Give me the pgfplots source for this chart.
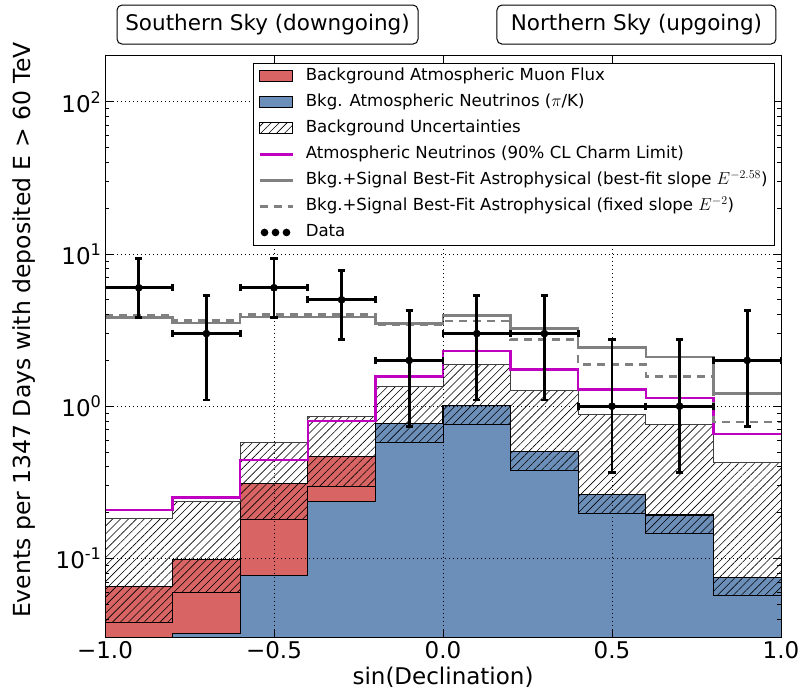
\documentclass[border=0pt]{standalone}
\usepackage{fontspec}
\setmainfont{DejaVu Sans}
\usepackage{pgfplots}
\pgfplotsset{compat=1.18}
\usepackage{pgfplotstable}
\usepgfplotslibrary{fillbetween}
\usetikzlibrary{patterns.meta}

\definecolor{muonred}{RGB}{217,100,100}
\definecolor{nublue}{RGB}{108,143,186}
\definecolor{charm}{RGB}{192,0,192}
\definecolor{fitgray}{RGB}{128,128,128}

\pgfplotstableread{
x blue tot lo hi charm fit fitd
-1.0 0.020 0.0653 0.0378 0.184 0.208 3.82 3.95
-0.8 0.032 0.098 0.060 0.236 0.252 3.52 3.65
-0.6 0.0771 0.311 0.180 0.574 0.443 3.85 4.00
-0.4 0.235 0.470 0.296 0.851 0.797 3.85 4.00
-0.2 0.770 0.770 0.581 1.339 1.57 3.49 3.45
0.0 1.015 1.015 0.762 1.876 2.31 3.95 3.63
0.2 0.507 0.507 0.380 1.273 1.74 3.23 2.74
0.4 0.264 0.264 0.198 0.883 1.287 2.43 1.88
0.6 0.193 0.193 0.146 0.758 1.128 2.11 1.57
0.8 0.0748 0.0748 0.0568 0.427 0.655 1.21 0.789
1.0 0.0748 0.0748 0.0568 0.427 0.655 1.21 0.789
}\hist

\pgfplotstableread{
x y ex ep em
-0.9 6 0.1 3.3 2.15
-0.7 3 0.1 2.32 1.9
-0.5 6 0.1 3.3 2.15
-0.3 5 0.1 2.8 2.25
-0.1 2 0.1 2.26 1.26
0.1 3 0.1 2.32 1.9
0.3 3 0.1 2.32 1.9
0.5 1 0.1 1.75 0.633
0.7 1 0.1 1.75 0.633
0.9 2 0.1 2.26 1.26
}\data

\begin{document}
\begin{tikzpicture}
\begin{axis}[
  at={(0,0)}, anchor=south west,
  width=676pt, height=582pt, scale only axis,
  ymode=log, xmin=-1, xmax=1, ymin=0.03, ymax=200,
  clip mode=individual,
  set layers=axis on top,
  xtick={-1,-0.5,0,0.5,1},
  xticklabels={−1.0,−0.5,0.0,0.5,1.0},
  ytick={0.1,1,10,100},
  yticklabels={10\textsuperscript{-1},10\textsuperscript{0},10\textsuperscript{1},10\textsuperscript{2}},
  minor ytick={0.04,0.05,0.06,0.07,0.08,0.09,0.2,0.3,0.4,0.5,0.6,0.7,0.8,0.9,2,3,4,5,6,7,8,9,20,30,40,50,60,70,80,90},
  grid=major,
  major grid style={black, line width=0.8pt, dash pattern=on 0.8pt off 3.2pt},
  tick style={black, line width=0.8pt},
  major tick length=8pt, minor tick length=4pt,
  axis line style={line width=1pt},
  tick label style={font=\fontsize{23}{27}\selectfont},
  xlabel={sin(Declination)},
  ylabel={Events per 1347 Days with deposited E > 60 TeV},
  every axis x label/.style={at={(axis description cs:0.5,0)}, anchor=north, yshift=-29pt, inner sep=0pt, font=\fontsize{23}{27}\selectfont},
  every axis y label/.style={at={(axis description cs:-0.1376,0.529)}, rotate=90, anchor=north, inner sep=0pt, font=\fontsize{23.5}{27}\selectfont},
  legend style={at={(axis description cs:0.9911,0.988)}, anchor=north east,
    draw=black, line width=1pt, fill=white,
    font=\fontsize{16.6}{19}\selectfont,
    inner xsep=5pt, inner ysep=3pt, row sep=6pt,
    nodes={inner sep=2pt, text height=12pt, text depth=4pt},
    /tikz/every odd column/.style={column sep=10pt}},
  legend cell align=left,
]
\addplot[name path=floor, draw=none, forget plot] coordinates {(-1,0.001) (1,0.001)};
\addplot[name path=bl, const plot, draw=none, forget plot] table[x=x,y=blue]{\hist};
\addplot[name path=tt, const plot, draw=none, forget plot] table[x=x,y=tot]{\hist};
\addplot[name path=lo, const plot, draw=none, forget plot] table[x=x,y=lo]{\hist};
\addplot[name path=hi, const plot, draw=none, forget plot] table[x=x,y=hi]{\hist};

\addplot[fill=nublue, draw=none, forget plot] fill between[of=bl and floor];
\addplot[fill=muonred, draw=none, forget plot] fill between[of=tt and bl];
\addplot[pattern={Lines[angle=45,distance=5.6pt,line width=0.6pt]}, draw=none, forget plot] fill between[of=hi and lo];

\addplot[const plot, black, line width=1.1pt, forget plot] table[x=x,y=blue]{\hist};
\addplot[const plot, black, line width=1.1pt, forget plot] table[x=x,y=tot]{\hist};
\addplot[const plot, black, line width=0.9pt, forget plot] table[x=x,y=lo]{\hist};
\addplot[const plot, black!75, line width=0.9pt, forget plot] table[x=x,y=hi]{\hist};

\addplot[const plot, charm, line width=2.5pt, forget plot] table[x=x,y=charm]{\hist};
\addplot[const plot, fitgray, line width=2.5pt, forget plot] table[x=x,y=fit]{\hist};
\addplot[const plot, fitgray, line width=2.5pt, dash pattern=on 8pt off 6pt, forget plot] table[x=x,y=fitd]{\hist};

\addplot[only marks, mark=*, mark size=3.6pt, black, forget plot,
  error bars/.cd, x dir=both, x explicit, y dir=both, y explicit,
  error mark=-,
  error bar style={line width=2.8pt, black},
  error mark options={rotate=90, black, line width=2.8pt, mark size=3.6pt}]
  table[x=x, y=y, x error=ex, y error plus=ep, y error minus=em]{\data};

\addlegendimage{legend image code/.code={\draw[fill=muonred, draw=black, line width=1pt] (0pt,-5.5pt) rectangle (33pt,5.5pt);}}
\addlegendentry{Background Atmospheric Muon Flux}
\addlegendimage{legend image code/.code={\draw[fill=nublue, draw=black, line width=1pt] (0pt,-5.5pt) rectangle (33pt,5.5pt);}}
\addlegendentry{Bkg. Atmospheric Neutrinos ($\pi$/K)}
\addlegendimage{legend image code/.code={\draw[pattern={Lines[angle=45,distance=5.6pt,line width=0.6pt]}, draw=black, line width=1pt] (0pt,-5.5pt) rectangle (33pt,5.5pt);}}
\addlegendentry{Background Uncertainties}
\addlegendimage{legend image code/.code={\draw[charm, line width=2.5pt] (0pt,0pt) -- (33pt,0pt);}}
\addlegendentry{Atmospheric Neutrinos (90\% CL Charm Limit)}
\addlegendimage{legend image code/.code={\draw[fitgray, line width=2.5pt] (0pt,0pt) -- (33pt,0pt);}}
\addlegendentry{Bkg.+Signal Best-Fit Astrophysical (best-fit slope $E^{-2.58}$)}
\addlegendimage{legend image code/.code={\draw[fitgray, line width=2.5pt, dash pattern=on 8pt off 6pt] (0pt,0pt) -- (33pt,0pt);}}
\addlegendentry{Bkg.+Signal Best-Fit Astrophysical (fixed slope $E^{-2}$)}
\addlegendimage{legend image code/.code={\fill[black] (5pt,0pt) circle (3.3pt) (16pt,0pt) circle (3.3pt) (27pt,0pt) circle (3.3pt);}}
\addlegendentry{Data}

\node[draw=black, line width=1pt, rounded corners=5pt, fill=white, minimum width=301pt, minimum height=39pt, inner sep=0pt, font=\fontsize{21.5}{25}\selectfont] at (axis description cs:0.2404,1.054) {Southern Sky (downgoing)};
\node[draw=black, line width=1pt, rounded corners=5pt, fill=white, minimum width=279pt, minimum height=39pt, inner sep=0pt, font=\fontsize{21.5}{25}\selectfont] at (axis description cs:0.7862,1.054) {Northern Sky (upgoing)};
\end{axis}
\pgfresetboundingbox
\useasboundingbox (-105pt,-57pt) rectangle (701pt,638pt);
\end{tikzpicture}
\end{document}
